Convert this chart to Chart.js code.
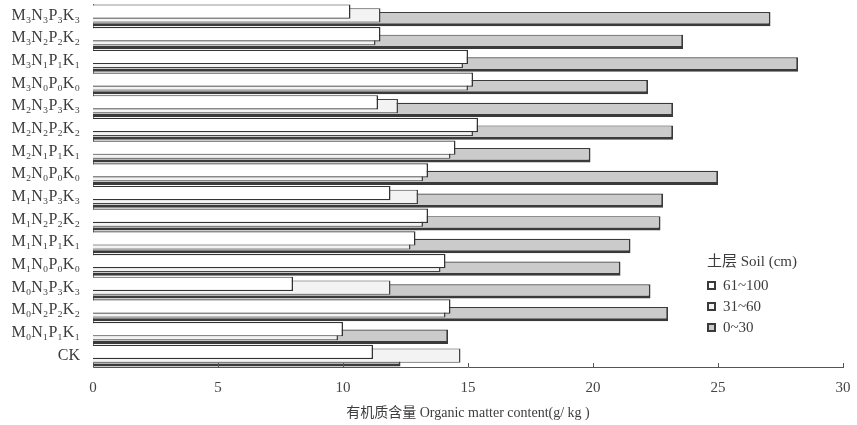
<!DOCTYPE html>
<html>
<head>
<meta charset="utf-8">
<script src="https://cdn.jsdelivr.net/npm/chart.js@4/dist/chart.umd.min.js"></script>
<style>
    body {
        margin: 0;
        background: #ffffff;
    }

    #wrap {
        position: relative;
        width: 857px;
        height: 425px;
    }

    #legend {
        position: absolute;
        left: 707px;
        top: 251px;
        font-family: 'Liberation Serif', 'Noto Sans CJK SC', serif;
        font-size: 15px;
        color: #3c3c3c;
        line-height: 21px;
    }

    #legend .title {
        margin-bottom: 3px;
    }

    #legend .item {
        display: flex;
        align-items: center;
    }

    #legend .box {
        width: 5px;
        height: 5px;
        border: 2px solid #3a3a3a;
        margin-right: 7px;
    }
</style>
</head>
<body>
<div id="wrap">
    <canvas id="chart" width="857" height="425"></canvas>
    <div id="legend"></div>
</div>
<script>
// treatments, top row first
const categories = [
    'M₃N₃P₃K₃', 'M₃N₂P₂K₂', 'M₃N₁P₁K₁', 'M₃N₀P₀K₀',
    'M₂N₃P₃K₃', 'M₂N₂P₂K₂', 'M₂N₁P₁K₁', 'M₂N₀P₀K₀',
    'M₁N₃P₃K₃', 'M₁N₂P₂K₂', 'M₁N₁P₁K₁', 'M₁N₀P₀K₀',
    'M₀N₃P₃K₃', 'M₀N₂P₂K₂', 'M₀N₁P₁K₁', 'CK'
]

// organic matter content (g/kg) per soil layer
const layer61to100 = [10.3, 11.5, 15.0, 15.2, 11.4, 15.4, 14.5, 13.4, 11.9, 13.4, 12.9, 14.1, 8.0, 14.3, 10.0, 11.2]
const layer31to60 = [11.5, 11.3, 14.8, 15.0, 12.2, 15.2, 14.3, 13.2, 13.0, 13.2, 12.7, 13.9, 11.9, 14.1, 9.8, 14.7]
const layer0to30 = [27.1, 23.6, 28.2, 22.2, 23.2, 23.2, 19.9, 25.0, 22.8, 22.7, 21.5, 21.1, 22.3, 23.0, 14.2, 12.3]

const xTicks = [0, 5, 10, 15, 20, 25, 30]

const seriesNames = ['61~100', '31~60', '0~30']
const seriesFills = ['#ffffff', '#f3f3f3', '#cbcbcb']

const serif = "'Liberation Serif', 'DejaVu Serif', serif"

// small tick marks pointing up from the x axis
const upTicks = {
    id: 'upTicks',
    afterDatasetsDraw(chart) {
        const scale = chart.scales.x
        const ctx = chart.ctx
        const bottom = chart.chartArea.bottom
        ctx.save()
        ctx.strokeStyle = '#555'
        ctx.lineWidth = 1
        xTicks.forEach((value) => {
            const x = Math.round(scale.getPixelForValue(value)) + 0.5
            ctx.beginPath()
            ctx.moveTo(x, bottom)
            ctx.lineTo(x, bottom - 4)
            ctx.stroke()
        })
        ctx.restore()
    }
}

new Chart(document.getElementById('chart'), {
    type: 'bar',
    data: {
        labels: categories,
        datasets: [
            {
                label: seriesNames[0],
                data: layer61to100,
                backgroundColor: seriesFills[0],
                borderColor: '#333',
                borderWidth: { top: 1.2, right: 1.5, bottom: 1.2, left: 0 }
            },
            {
                label: seriesNames[1],
                data: layer31to60,
                backgroundColor: seriesFills[1],
                borderColor: '#444',
                borderWidth: { top: 1, right: 1.5, bottom: 1, left: 0 }
            },
            {
                label: seriesNames[2],
                data: layer0to30,
                backgroundColor: seriesFills[2],
                borderColor: '#3a3a3a',
                borderWidth: { top: 1.2, right: 1.8, bottom: 3, left: 0 }
            }
        ]
    },
    options: {
        indexAxis: 'y',
        responsive: false,
        animation: false,
        categoryPercentage: 0.5,
        barPercentage: 3.8,
        layout: {
            padding: { top: 4, right: 14, bottom: 0, left: 0 }
        },
        plugins: {
            legend: { display: false },
            tooltip: { enabled: false }
        },
        scales: {
            x: {
                min: 0,
                max: 30,
                afterBuildTicks: (scale) => {
                    scale.ticks = xTicks.map((value) => ({ value }))
                },
                afterFit: (scale) => {
                    scale.height = 58
                    scale.paddingLeft = 0
                    scale.paddingRight = 0
                },
                grid: { display: false, drawTicks: false },
                border: { display: true, color: '#555', width: 1 },
                ticks: {
                    padding: 12,
                    color: '#444',
                    font: { family: serif, size: 15 }
                },
                title: {
                    display: true,
                    text: '有机质含量 Organic matter content(g/ kg )',
                    color: '#3c3c3c',
                    padding: { top: 0, bottom: 3 },
                    font: { family: "'Liberation Serif', 'Noto Sans CJK SC', serif", size: 14 }
                }
            },
            y: {
                afterFit: (scale) => {
                    scale.width = 93
                    scale.paddingTop = 0
                    scale.paddingBottom = 0
                },
                grid: { display: false, drawTicks: false },
                border: { display: true, color: '#777', width: 1 },
                ticks: {
                    padding: 13,
                    color: '#3c3c3c',
                    font: { family: serif, size: 16 }
                }
            }
        }
    },
    plugins: [upTicks]
})

const legend = document.getElementById('legend')
legend.innerHTML = '<div class="title">土层 Soil (cm)</div>' +
    seriesNames.map((name, i) =>
        `<div class="item"><span class="box" style="background:${seriesFills[i]}"></span>${name}</div>`
    ).join('')
</script>
</body>
</html>
